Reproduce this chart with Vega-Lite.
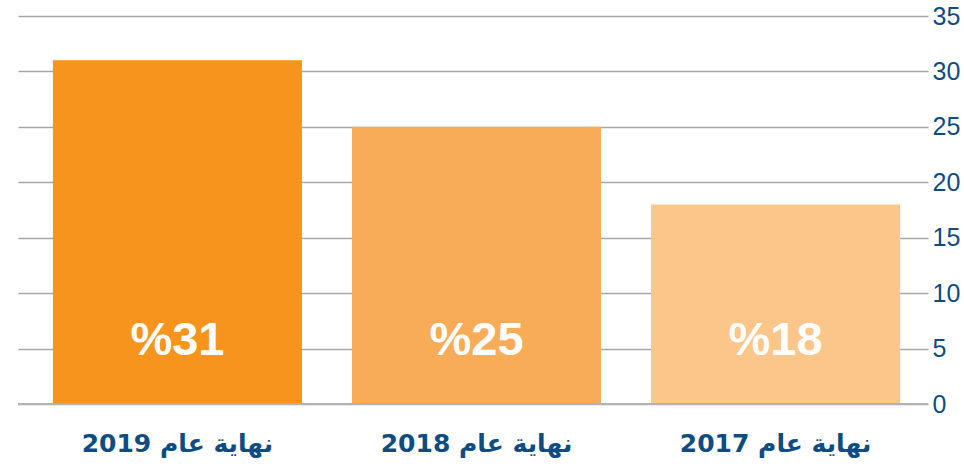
{
  "$schema": "https://vega.github.io/schema/vega-lite/v6.json",
  "autosize": "none",
  "width": 910,
  "height": 388,
  "padding": {"left": 18, "top": 16, "right": 36, "bottom": 65},
  "background": "white",
  "config": {
    "view": {"stroke": null},
    "font": "Liberation Sans"
  },
  "data": {
    "values": [
      {"year": "2019 نهاية عام", "value": 31, "label": "%31", "order": 1},
      {"year": "2018 نهاية عام", "value": 25, "label": "%25", "order": 2},
      {"year": "2017 نهاية عام", "value": 18, "label": "%18", "order": 3}
    ]
  },
  "encoding": {
    "x": {
      "field": "year",
      "type": "nominal",
      "sort": {"field": "order"},
      "scale": {"paddingInner": 0.1672, "paddingOuter": 0.105, "align": 0.556},
      "axis": {
        "title": null,
        "labelAngle": 0,
        "labelFont": "DejaVu Sans",
        "labelFontSize": 25,
        "labelFontWeight": "bold",
        "labelColor": "#0f4c81",
        "labelPadding": 39,
        "labelBaseline": "middle",
        "labelLimit": 400,
        "ticks": false,
        "domain": false,
        "grid": false
      }
    }
  },
  "layer": [
    {
      "mark": {"type": "bar"},
      "encoding": {
        "y": {
          "field": "value",
          "type": "quantitative",
          "scale": {"domain": [0, 35], "nice": false},
          "axis": {
            "orient": "right",
            "title": null,
            "values": [0, 5, 10, 15, 20, 25, 30, 35],
            "labelFont": "Liberation Sans",
            "labelFontSize": 25,
            "labelColor": "#0f4c81",
            "labelPadding": 4,
            "ticks": false,
            "domain": false,
            "grid": true,
            "gridColor": "#a6a6a6",
            "gridWidth": 1.3
          }
        },
        "color": {
          "field": "year",
          "type": "nominal",
          "sort": {"field": "order"},
          "scale": {"range": ["#F7941D", "#F9AC58", "#FBC68A"]},
          "legend": null
        }
      }
    },
    {
      "mark": {"type": "rule", "color": "#b3b3b3", "strokeWidth": 2},
      "encoding": {
        "y": {"datum": 0},
        "x": {"value": 0},
        "x2": {"value": 910}
      }
    },
    {
      "mark": {
        "type": "text",
        "color": "white",
        "fontSize": 47,
        "fontWeight": "bold",
        "font": "Liberation Sans",
        "baseline": "alphabetic",
        "dy": -49
      },
      "encoding": {
        "y": {"datum": 0},
        "text": {"field": "label"}
      }
    }
  ]
}
